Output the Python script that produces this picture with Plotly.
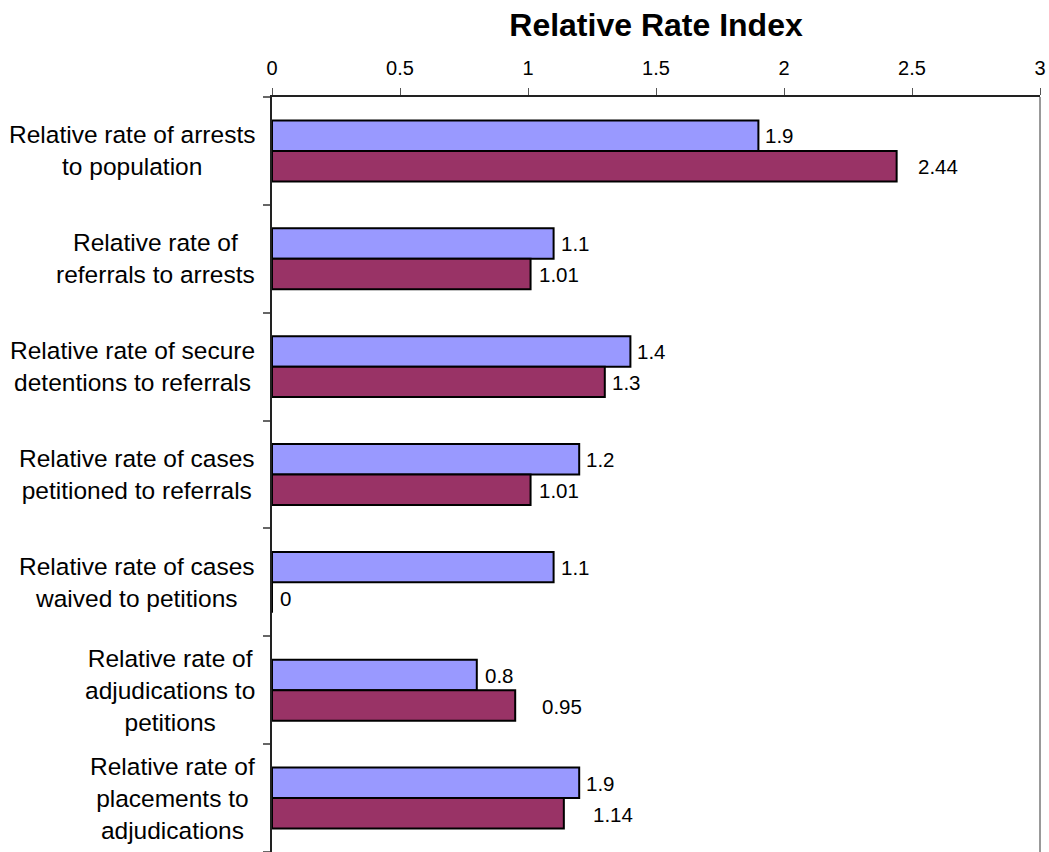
import plotly.graph_objects as go

categories = [
    "Relative rate of arrests<br>to population",
    "Relative rate of<br>referrals to arrests",
    "Relative rate of secure<br>detentions to referrals",
    "Relative rate of cases<br>petitioned to referrals",
    "Relative rate of cases<br>waived to petitions",
    "Relative rate of<br>adjudications to<br>petitions",
    "Relative rate of<br>placements to<br>adjudications",
]
series1_values = [1.9, 1.1, 1.4, 1.2, 1.1, 0.8, 1.2]
series1_labels = ["1.9", "1.1", "1.4", "1.2", "1.1", "0.8", "1.9"]
series2_values = [2.44, 1.01, 1.3, 1.01, 0, 0.95, 1.14]
series2_labels = ["2.44", "1.01", "1.3", "1.01", "0", "0.95", "1.14"]
x_ticks = [0, 0.5, 1, 1.5, 2, 2.5, 3]

# label pixel offsets (style only)
s1_shift = [5, 5, 5, 5, 5, 6, 5]
s2_shift = [19, 6, 5, 6, 6, 25, 27]

FONT = "Liberation Sans, Arial, sans-serif"
BLUE = "#9999FF"
MAROON = "#993366"

idx = list(range(len(categories)))

fig = go.Figure()
fig.add_trace(go.Bar(
    y=idx, x=series1_values, orientation="h", name="Series 1",
    marker=dict(color=BLUE, line=dict(color="black", width=2)),
    hoverinfo="x",
))
fig.add_trace(go.Bar(
    y=idx, x=series2_values, orientation="h", name="Series 2",
    marker=dict(color=MAROON, line=dict(color="black", width=2)),
    hoverinfo="x",
))

annotations = []
for i, (v, t, s) in enumerate(zip(series1_values, series1_labels, s1_shift)):
    annotations.append(dict(x=v, y=i, xref="x", yref="y", text=t, showarrow=False,
                            xanchor="left", yanchor="middle", xshift=s, yshift=15,
                            font=dict(family=FONT, size=20.5, color="black")))
for i, (v, t, s) in enumerate(zip(series2_values, series2_labels, s2_shift)):
    annotations.append(dict(x=v, y=i, xref="x", yref="y", text=t, showarrow=False,
                            xanchor="left", yanchor="middle", xshift=s, yshift=-16,
                            font=dict(family=FONT, size=20.5, color="black")))
for i, c in enumerate(categories):
    annotations.append(dict(x=0, y=i, xref="paper", yref="y", text=c, showarrow=False,
                            xanchor="right", yanchor="middle", align="center", xshift=-15,
                            font=dict(family=FONT, size=24.5, color="black")))

fig.update_layout(
    width=1049, height=852,
    margin=dict(l=272, r=9, t=97, b=0),
    paper_bgcolor="white", plot_bgcolor="white",
    barmode="group", bargap=0.435, bargroupgap=0,
    showlegend=False,
    title=dict(text="<b>Relative Rate Index</b>", x=0.5, xref="paper",
               y=1 - 25 / 852, yref="container", xanchor="center", yanchor="middle",
               font=dict(family=FONT, size=32, color="black")),
    xaxis=dict(side="top", range=[0, 3], tickvals=x_ticks,
               ticktext=[f"{t:g}" for t in x_ticks],
               showgrid=False, zeroline=False, showline=True, linecolor="#222222", linewidth=1.5,
               ticks="outside", ticklen=7, tickcolor="#555555", tickwidth=1,
               ticklabelstandoff=5,
               tickfont=dict(family=FONT, size=20, color="black")),
    yaxis=dict(range=[len(categories) - 0.5, -0.5],
               tickvals=[i - 0.5 for i in range(len(categories) + 1)],
               showticklabels=False, showgrid=False, zeroline=False,
               showline=True, linecolor="#222222", linewidth=1.5,
               ticks="outside", ticklen=7, tickcolor="#666666", tickwidth=1.5),
    annotations=annotations,
    shapes=[dict(type="line", xref="paper", yref="paper", x0=1, x1=1, y0=0, y1=1,
                 line=dict(color="#999999", width=2))],
)

fig.write_html("out.html")
